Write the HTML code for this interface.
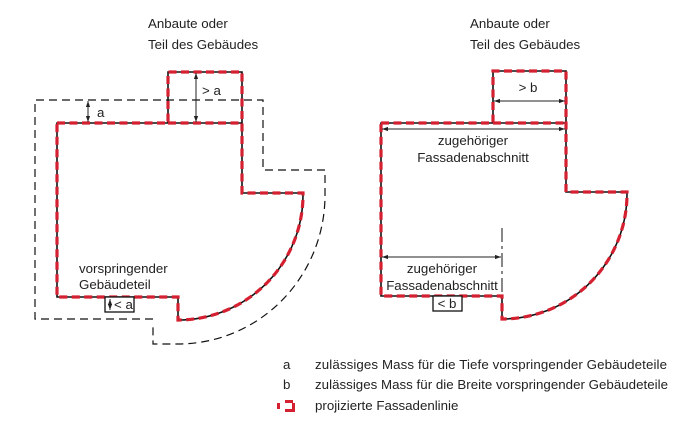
<!DOCTYPE html>
<html><head><meta charset="utf-8"><style>
html,body{margin:0;padding:0;background:#fff}
svg{display:block}
text{font-family:"Liberation Sans",sans-serif;font-size:13.3px;fill:#222}
</style></head><body>
<svg width="699" height="448" viewBox="0 0 699 448">
<defs>
<marker id="ar" viewBox="0 0 10 10" refX="10" refY="5" markerWidth="6" markerHeight="6" orient="auto-start-reverse"><path d="M0,1.5 L10,5 L0,8.5 z" fill="#222"/></marker>
</defs>
<!-- LEFT outer dashed -->
<g fill="none" stroke="#111" stroke-width="1.2" stroke-dasharray="8,5">
<path d="M153,319 L35,319 L35,100 L263,100 L263,170 L325,170 L325,195 A147,149 0 0 1 178,344 L153,344 L153,327"/>
</g>
<!-- LEFT building -->
<path d="M57,123 L168,123 L168,72 L242,72 L242,123 L242,193 L303,193 L303,195 A125,125 0 0 1 178,320 L178,297 L57,297 Z" fill="none" stroke="#111" stroke-width="1.6"/>
<line x1="168" y1="123" x2="242" y2="123" stroke="#111" stroke-width="1.6"/>
<g fill="none" stroke="#d42030" stroke-width="3.2" stroke-dasharray="8,4.5">
<path d="M57,123 L168,123 L168,72 L242,72 L242,123 L242,193 L303,193 L303,195 A125,125 0 0 1 178,320 L178,297 L57,297 Z"/>
<line x1="168" y1="123" x2="242" y2="123"/>
</g>
<line x1="88" y1="101" x2="88" y2="122" stroke="#222" stroke-width="1" marker-start="url(#ar)" marker-end="url(#ar)"/>
<text x="97" y="117">a</text>
<line x1="196" y1="73" x2="196" y2="122" stroke="#222" stroke-width="1" marker-start="url(#ar)" marker-end="url(#ar)"/>
<text x="202" y="95">&gt; a</text>
<rect x="105" y="297" width="29" height="15" fill="#fff" stroke="#111" stroke-width="1.3"/>
<line x1="110" y1="299" x2="110" y2="310" stroke="#222" stroke-width="1" marker-start="url(#ar)" marker-end="url(#ar)"/>
<text x="114" y="309">&lt; a</text>
<text x="79" y="273">vorspringender</text>
<text x="79" y="289">Gebäudeteil</text>
<text x="148" y="28">Anbaute oder</text>
<text x="148" y="49">Teil des Gebäudes</text>
<!-- RIGHT building -->
<path d="M381,123 L493,123 L493,71 L566,71 L566,192 L627,192 L627,194 A125,125 0 0 1 502,319 L502,296 L381,296 Z" fill="none" stroke="#111" stroke-width="1.6"/>
<line x1="493" y1="123" x2="566" y2="123" stroke="#111" stroke-width="1.6"/>
<g fill="none" stroke="#d42030" stroke-width="3.2" stroke-dasharray="8,4.5">
<path d="M381,123 L493,123 L493,71 L566,71 L566,192 L627,192 L627,194 A125,125 0 0 1 502,319 L502,296 L381,296 Z"/>
<line x1="493" y1="123" x2="566" y2="123"/>
</g>
<line x1="502" y1="228" x2="502" y2="296" stroke="#111" stroke-width="1" stroke-dasharray="14,4,3,4"/>
<line x1="494" y1="101" x2="565" y2="101" stroke="#222" stroke-width="1" marker-start="url(#ar)" marker-end="url(#ar)"/>
<text x="528" y="92" text-anchor="middle">&gt; b</text>
<line x1="382" y1="129" x2="565" y2="129" stroke="#222" stroke-width="1" marker-start="url(#ar)" marker-end="url(#ar)"/>
<text x="473" y="145" text-anchor="middle">zugehöriger</text>
<text x="473" y="162" text-anchor="middle">Fassadenabschnitt</text>
<line x1="382" y1="257" x2="501" y2="257" stroke="#222" stroke-width="1" marker-start="url(#ar)" marker-end="url(#ar)"/>
<text x="442" y="273" text-anchor="middle">zugehöriger</text>
<text x="442" y="290" text-anchor="middle">Fassadenabschnitt</text>
<rect x="433" y="296" width="29" height="15" fill="#fff" stroke="#111" stroke-width="1.3"/>
<text x="447" y="308" text-anchor="middle">&lt; b</text>
<text x="470" y="28">Anbaute oder</text>
<text x="470" y="49">Teil des Gebäudes</text>
<!-- legend -->
<text x="283" y="369">a</text>
<text x="315" y="369" textLength="352">zulässiges Mass für die Tiefe vorspringender Gebäudeteile</text>
<text x="283" y="389">b</text>
<text x="315" y="389" textLength="353">zulässiges Mass für die Breite vorspringender Gebäudeteile</text>
<g fill="#d42030">
<rect x="277" y="403" width="3" height="6"/>
<rect x="285" y="400" width="8" height="3"/>
<rect x="292" y="403" width="3" height="6"/>
<rect x="285" y="409" width="10" height="3"/>
</g>
<text x="315" y="410">projizierte Fassadenlinie</text>
</svg>
</body></html>
